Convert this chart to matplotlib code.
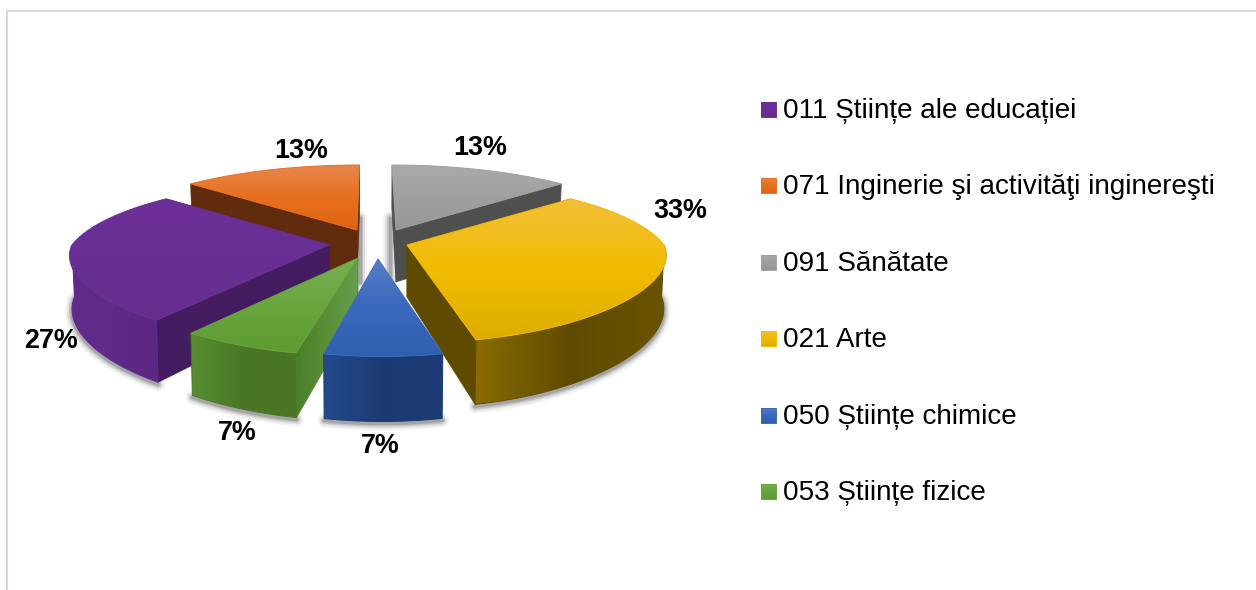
import numpy as np
import matplotlib
matplotlib.use('Agg')
import matplotlib.pyplot as plt
from matplotlib.colors import LinearSegmentedColormap
from matplotlib.patches import Polygon

plt.rcParams['font.family'] = ['Liberation Sans', 'DejaVu Sans']

# date
categorii = ['011 Științe ale educației', '071 Inginerie şi activităţi inginereşti', '091 Sănătate',
             '021 Arte', '050 Științe chimice', '053 Științe fizice']
procente = [26.7, 13.3, 13.3, 33.3, 6.7, 6.7]

# stil: varful fiecarei felii (pixeli) si culorile
varfuri = [(329, 245), (357, 230), (396, 230), (407, 245), (378, 259), (358, 258)]
forfecare = [0, 0, 0, 0, 3, 0]
top_cul = [['#6c3098', '#6a2f94', '#672d90'], ['#e8884e', '#e76f1f', '#df6410'], ['#aaaaaa', '#a0a0a0', '#969696'],
           ['#f2bf3a', '#f3bc00', '#dbac00'], ['#5a80c4', '#3a69bd', '#2f5fae'], ['#78b054', '#69a63e', '#5f9a32']]
rim_cul = [['#612b8c', '#5f2a88', '#5a2782'], ['#602c0d'] * 3, ['#505050'] * 3,
           ['#8a6c00', '#5f4b00', '#6a5400'], ['#234b8d', '#1c3a72', '#1e3d78'], ['#588f31', '#4a7626', '#4a7626']]
zid_cul = ['#441d60', '#602c0d', '#4f4f4f', '#5f4b00', '#1e3d78', '#5c9350']
leg_y = [109.5, 185.5, 262, 338, 415, 491]
et_poz = [(51, 341), (301, 151), (480, 148), (680, 211), (380, 446), (237, 433)]
start = 216.0
RX, RY, GROS, CX = 257.0, 78.0, 52.0, 372.0

fig = plt.figure(figsize=(12.56, 5.9), dpi=100)
ax = fig.add_axes([0, 0, 1, 1])


def proiect(varf, teta, sk=0):
    u, v = np.sin(teta), np.cos(teta)
    s = 1 / (1 + 0.2 * v)
    sx = np.where(v > 0, s, 1 / (1 + 0.1 * v))
    x = varf[0] + RX * u * sx + (varf[0] - CX) * (s - 1) - sk * v
    y = varf[1] - RY * v * s
    return x, y, s


def gradient(poly, culori, vertical=True, z=1):
    poly = np.asarray(poly)
    x0, x1 = poly[:, 0].min() - 1, poly[:, 0].max() + 1
    y0, y1 = poly[:, 1].min() - 1, poly[:, 1].max() + 1
    cm = LinearSegmentedColormap.from_list('c', culori)
    g = np.linspace(0, 1, 256)
    g = g[:, None] if vertical else g[None, :]
    p = Polygon(poly, closed=True, fc='none', ec='none', zorder=z)
    ax.add_patch(p)
    im = ax.imshow(g, cmap=cm, extent=[x0, x1, y1, y0], aspect='auto', zorder=z, interpolation='bilinear')
    im.set_clip_path(p)
    ax.add_patch(Polygon(poly, closed=True, fc='none', ec=culori[1], lw=0.7, zorder=z))


def umbra(xs, ys, z):
    for lw, a in ((10, 0.05), (7, 0.08), (4.5, 0.12), (2.5, 0.15)):
        ax.plot(xs, ys, color='black', alpha=a, lw=lw, solid_capstyle='round', zorder=z)


# unghiurile feliilor din procente
cum = np.cumsum([0] + procente)
cum = cum / cum[-1] * 100
ordine = [2, 1, 0, 3, 5, 4]  # din spate in fata
for rang, i in enumerate(ordine):
    a0 = np.radians(start + 3.6 * cum[i])
    a1 = np.radians(start + 3.6 * cum[i + 1])
    if i >= 2:
        a0 -= 2 * np.pi
        a1 -= 2 * np.pi
    v = varfuri[i]
    z = 2 + rang * 3
    t = np.linspace(a0, a1, 80)
    x, y, s = proiect(v, t, forfecare[i])
    jos_x = CX + (x - CX) * 0.992
    jos_y = y + GROS * s

    # umbra si peretele exterior, doar partea din fata
    af0, af1 = max(a0, np.pi / 2), min(a1, 3 * np.pi / 2)
    fata = None
    if af1 > af0:
        tf = np.linspace(af0, af1, 60)
        xf, yf, sf = proiect(v, tf, forfecare[i])
        jx = CX + (xf - CX) * 0.992
        jy = yf + GROS * sf
        umbra(jx, jy + 2, z)
        fata = np.vstack([np.c_[xf, yf], np.c_[jx, jy][::-1]])
    else:
        dx = 3 if i == 1 else -6
        umbra([v[0] + dx, v[0] + dx], [v[1] - 12, v[1] + GROS], z)

    # peretii interiori
    vb = (v[0], v[1] + GROS)
    zid0 = [v, (x[0], y[0]), (jos_x[0], jos_y[0]), vb]
    zid1 = [v, (x[-1], y[-1]), (jos_x[-1], jos_y[-1]), vb]
    if i == 5:
        # peretele verde are gradient
        gradient(zid0, ['#4a7d28', '#5a8f38', '#66a050'], vertical=False, z=z + 1)
    elif i != 4:
        ax.add_patch(Polygon(zid0, closed=True, fc=zid_cul[i], ec=zid_cul[i], lw=0.5, zorder=z + 1))
        ax.add_patch(Polygon(zid1, closed=True, fc=zid_cul[i], ec=zid_cul[i], lw=0.5, zorder=z + 1))

    if fata is not None:
        gradient(fata, rim_cul[i], vertical=False, z=z + 1)

    # fata de sus
    gradient(np.vstack([[v], np.c_[x, y]]), top_cul[i], vertical=True, z=z + 2)

# etichete
for p, (ex, ey) in zip(procente, et_poz):
    ax.text(ex, ey, f'{p:.0f}%', fontsize=19.4, fontweight='bold', color='black', ha='center', va='center', zorder=40)

# legenda
for nume, ly, c in zip(categorii, leg_y, top_cul):
    sw = [(761, ly - 7.5), (776, ly - 7.5), (776, ly + 7.5), (761, ly + 7.5)]
    gradient(sw, c, vertical=True, z=40)
    ax.text(783, ly + 2, nume, fontsize=20.1, color='black', ha='left', va='center', zorder=40)

# chenar
ax.plot([7, 7, 1256], [590, 11, 11], color='#d9d9d9', lw=1.5, zorder=50)

ax.set_xlim(0, 1256)
ax.set_ylim(590, 0)
ax.axis('off')
fig.savefig('out.png', dpi=100, facecolor='white')
